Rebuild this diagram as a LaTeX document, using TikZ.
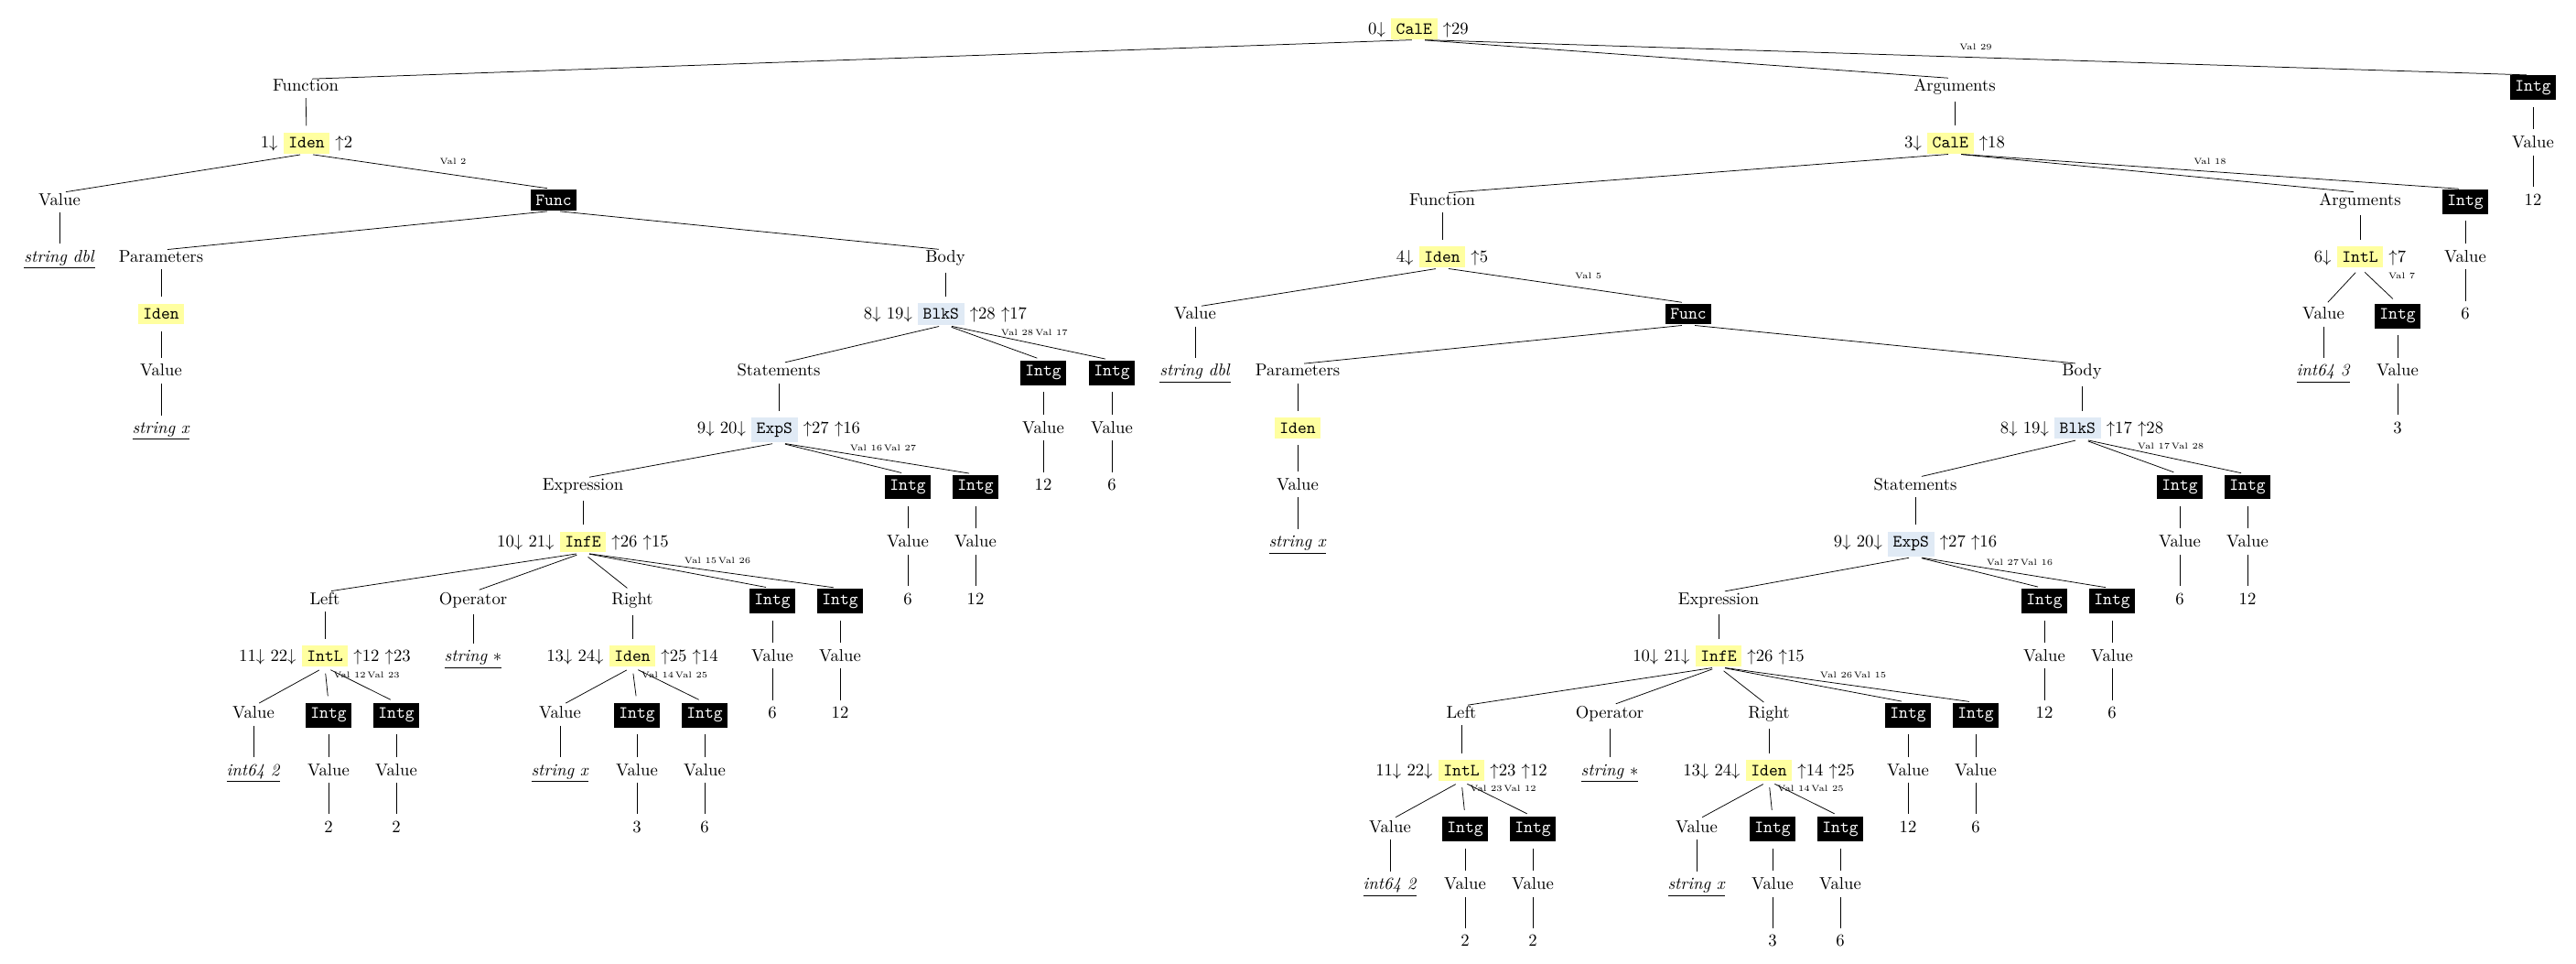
\documentclass[tikz,border=0pt]{standalone}
\usepackage{tikz,amsmath}
\definecolor{hlyellow}{HTML}{FFFFA0}
\definecolor{hlblue}{HTML}{E0EAF5}
\newcommand{\yelbox}[1]{\colorbox{hlyellow}{\texttt{#1}}}
\newcommand{\bluebox}[1]{\colorbox{hlblue}{\texttt{#1}}}
\newcommand{\blkbox}[1]{\colorbox{black}{\textcolor{white}{\texttt{#1}}}}
\newcommand{\ulval}[1]{\underline{\textit{#1}}}
\newcommand{\dn}[1]{$#1{\downarrow}$}
\newcommand{\up}[1]{${\uparrow}#1$}

\begin{document}
\begin{tikzpicture}[
        %x runs in pixels of the sheet, y counts the levels of the tree
        x=0.535pt, y=-33.33pt,
        every node/.style={inner sep=0pt, anchor=base},
        branch/.style={shorten <=3.8pt, shorten >=3.8pt},
        vallbl/.style={midway, anchor=center, font=\tiny, xshift=13.4pt, yshift=5.9pt},
        vallblmid/.style={midway, anchor=center, font=\tiny, yshift=5.9pt}
     ]
\useasboundingbox (0,-0.597) rectangle (2815,16.305);

% Root call
\node (cale0) at (1550,0) {\dn{0} \yelbox{CalE} \up{29}};
\node (fun0) at (334,1) {Function};
\node (args0) at (2136,1) {Arguments};
\draw[branch] (cale0.south) -- (fun0.north);
\draw[branch] (cale0.south) -- (args0.north);
\node (ig1) at (2768,1) {\blkbox{Intg}};
\node (iv1) at (2768,2) {Value};
\node (in1) at (2768,3) {12};
\draw[branch] (cale0.south) -- (ig1.north) node[vallblmid] {Val 29};
\draw[branch] (ig1.south) -- (iv1.north);
\draw[branch] (iv1.south) -- (in1.north);

% Function of the outer call
\node (iden1) at (335,2) {\dn{1} \yelbox{Iden} \up{2}};
\draw[branch] (fun0.south) -- (iden1.north);
\node (val1) at (65,3) {Value};
\node (str1) at (65,4) {\ulval{string dbl}};
\draw[branch] (iden1.south) -- (val1.north);
\draw[branch] (val1.south) -- (str1.north);
\node (func1) at (605,3) {\blkbox{Func}};
\draw[branch] (iden1.south) -- (func1.north) node[vallbl] {Val 2};
\node (par1) at (176,4) {Parameters};
\node (iden2) at (176,5) {\yelbox{Iden}};
\node (val2) at (176,6) {Value};
\node (str2) at (176,7) {\ulval{string x}};
\draw[branch] (func1.south) -- (par1.north);
\draw[branch] (par1.south) -- (iden2.north);
\draw[branch] (iden2.south) -- (val2.north);
\draw[branch] (val2.south) -- (str2.north);
\node (body1) at (1033,4) {Body};
\node (blks1) at (1033,5) {\dn{8} \dn{19} \bluebox{BlkS} \up{28} \up{17}};
\node (stm1) at (851,6) {Statements};
\node (exps1) at (851,7) {\dn{9} \dn{20} \bluebox{ExpS} \up{27} \up{16}};
\node (expr1) at (637,8) {Expression};
\node (infe1) at (637,9) {\dn{10} \dn{21} \yelbox{InfE} \up{26} \up{15}};
\draw[branch] (func1.south) -- (body1.north);
\draw[branch] (body1.south) -- (blks1.north);
\draw[branch] (blks1.south) -- (stm1.north);
\draw[branch] (stm1.south) -- (exps1.north);
\draw[branch] (exps1.south) -- (expr1.north);
\draw[branch] (expr1.south) -- (infe1.north);
\node (left1) at (355,10) {Left};
\node (intl1) at (355,11) {\dn{11} \dn{22} \yelbox{IntL} \up{12} \up{23}};
\node (val3) at (277,12) {Value};
\node (str3) at (277,13) {\ulval{int64 2}};
\draw[branch] (infe1.south) -- (left1.north);
\draw[branch] (left1.south) -- (intl1.north);
\draw[branch] (intl1.south) -- (val3.north);
\draw[branch] (val3.south) -- (str3.north);
\node (op1) at (517,10) {Operator};
\node (str4) at (517,11) {\underline{\textit{string} $*$}};
\draw[branch] (infe1.south) -- (op1.north);
\draw[branch] (op1.south) -- (str4.north);
\node (right1) at (691,10) {Right};
\node (iden3) at (691,11) {\dn{13} \dn{24} \yelbox{Iden} \up{25} \up{14}};
\node (val4) at (612,12) {Value};
\node (str5) at (612,13) {\ulval{string x}};
\draw[branch] (infe1.south) -- (right1.north);
\draw[branch] (right1.south) -- (iden3.north);
\draw[branch] (iden3.south) -- (val4.north);
\draw[branch] (val4.south) -- (str5.north);

% Integer values below the outer function
\node (ig2) at (359,12) {\blkbox{Intg}};
\node (iv2) at (359,13) {Value};
\node (in2) at (359,14) {2};
\draw[branch] (intl1.south) -- (ig2.north) node[vallbl] {Val 12};
\draw[branch] (ig2.south) -- (iv2.north);
\draw[branch] (iv2.south) -- (in2.north);
\node (ig3) at (433,12) {\blkbox{Intg}};
\node (iv3) at (433,13) {Value};
\node (in3) at (433,14) {2};
\draw[branch] (intl1.south) -- (ig3.north) node[vallbl] {Val 23};
\draw[branch] (ig3.south) -- (iv3.north);
\draw[branch] (iv3.south) -- (in3.north);
\node (ig4) at (696,12) {\blkbox{Intg}};
\node (iv4) at (696,13) {Value};
\node (in4) at (696,14) {3};
\draw[branch] (iden3.south) -- (ig4.north) node[vallbl] {Val 14};
\draw[branch] (ig4.south) -- (iv4.north);
\draw[branch] (iv4.south) -- (in4.north);
\node (ig5) at (770,12) {\blkbox{Intg}};
\node (iv5) at (770,13) {Value};
\node (in5) at (770,14) {6};
\draw[branch] (iden3.south) -- (ig5.north) node[vallbl] {Val 25};
\draw[branch] (ig5.south) -- (iv5.north);
\draw[branch] (iv5.south) -- (in5.north);
\node (ig6) at (844,10) {\blkbox{Intg}};
\node (iv6) at (844,11) {Value};
\node (in6) at (844,12) {6};
\draw[branch] (infe1.south) -- (ig6.north) node[vallbl] {Val 15};
\draw[branch] (ig6.south) -- (iv6.north);
\draw[branch] (iv6.south) -- (in6.north);
\node (ig7) at (918,10) {\blkbox{Intg}};
\node (iv7) at (918,11) {Value};
\node (in7) at (918,12) {12};
\draw[branch] (infe1.south) -- (ig7.north) node[vallbl] {Val 26};
\draw[branch] (ig7.south) -- (iv7.north);
\draw[branch] (iv7.south) -- (in7.north);
\node (ig8) at (992,8) {\blkbox{Intg}};
\node (iv8) at (992,9) {Value};
\node (in8) at (992,10) {6};
\draw[branch] (exps1.south) -- (ig8.north) node[vallbl] {Val 16};
\draw[branch] (ig8.south) -- (iv8.north);
\draw[branch] (iv8.south) -- (in8.north);
\node (ig9) at (1066,8) {\blkbox{Intg}};
\node (iv9) at (1066,9) {Value};
\node (in9) at (1066,10) {12};
\draw[branch] (exps1.south) -- (ig9.north) node[vallbl] {Val 27};
\draw[branch] (ig9.south) -- (iv9.north);
\draw[branch] (iv9.south) -- (in9.north);
\node (ig10) at (1140,6) {\blkbox{Intg}};
\node (iv10) at (1140,7) {Value};
\node (in10) at (1140,8) {12};
\draw[branch] (blks1.south) -- (ig10.north) node[vallbl] {Val 28};
\draw[branch] (ig10.south) -- (iv10.north);
\draw[branch] (iv10.south) -- (in10.north);
\node (ig11) at (1215,6) {\blkbox{Intg}};
\node (iv11) at (1215,7) {Value};
\node (in11) at (1215,8) {6};
\draw[branch] (blks1.south) -- (ig11.north) node[vallbl] {Val 17};
\draw[branch] (ig11.south) -- (iv11.north);
\draw[branch] (iv11.south) -- (in11.north);

% Inner call in the arguments
\node (cale3) at (2136,2) {\dn{3} \yelbox{CalE} \up{18}};
\draw[branch] (args0.south) -- (cale3.north);
\node (fun4) at (1576,3) {Function};
\node (iden4) at (1576,4) {\dn{4} \yelbox{Iden} \up{5}};
\draw[branch] (cale3.south) -- (fun4.north);
\draw[branch] (fun4.south) -- (iden4.north);
\node (val5) at (1306,5) {Value};
\node (str6) at (1306,6) {\ulval{string dbl}};
\draw[branch] (iden4.south) -- (val5.north);
\draw[branch] (val5.south) -- (str6.north);
\node (func2) at (1845,5) {\blkbox{Func}};
\draw[branch] (iden4.south) -- (func2.north) node[vallbl] {Val 5};
\node (par2) at (1418,6) {Parameters};
\node (iden5) at (1418,7) {\yelbox{Iden}};
\node (val6) at (1418,8) {Value};
\node (str7) at (1418,9) {\ulval{string x}};
\draw[branch] (func2.south) -- (par2.north);
\draw[branch] (par2.south) -- (iden5.north);
\draw[branch] (iden5.south) -- (val6.north);
\draw[branch] (val6.south) -- (str7.north);
\node (body2) at (2275,6) {Body};
\node (blks2) at (2275,7) {\dn{8} \dn{19} \bluebox{BlkS} \up{17} \up{28}};
\node (stm2) at (2093,8) {Statements};
\node (exps2) at (2093,9) {\dn{9} \dn{20} \bluebox{ExpS} \up{27} \up{16}};
\node (expr2) at (1878,10) {Expression};
\node (infe2) at (1878,11) {\dn{10} \dn{21} \yelbox{InfE} \up{26} \up{15}};
\draw[branch] (func2.south) -- (body2.north);
\draw[branch] (body2.south) -- (blks2.north);
\draw[branch] (blks2.south) -- (stm2.north);
\draw[branch] (stm2.south) -- (exps2.north);
\draw[branch] (exps2.south) -- (expr2.north);
\draw[branch] (expr2.south) -- (infe2.north);
\node (left2) at (1597,12) {Left};
\node (intl2) at (1597,13) {\dn{11} \dn{22} \yelbox{IntL} \up{23} \up{12}};
\node (val7) at (1519,14) {Value};
\node (str8) at (1519,15) {\ulval{int64 2}};
\draw[branch] (infe2.south) -- (left2.north);
\draw[branch] (left2.south) -- (intl2.north);
\draw[branch] (intl2.south) -- (val7.north);
\draw[branch] (val7.south) -- (str8.north);
\node (op2) at (1759,12) {Operator};
\node (str9) at (1759,13) {\underline{\textit{string} $*$}};
\draw[branch] (infe2.south) -- (op2.north);
\draw[branch] (op2.south) -- (str9.north);
\node (right2) at (1933,12) {Right};
\node (iden6) at (1933,13) {\dn{13} \dn{24} \yelbox{Iden} \up{14} \up{25}};
\node (val8) at (1854,14) {Value};
\node (str10) at (1854,15) {\ulval{string x}};
\draw[branch] (infe2.south) -- (right2.north);
\draw[branch] (right2.south) -- (iden6.north);
\draw[branch] (iden6.south) -- (val8.north);
\draw[branch] (val8.south) -- (str10.north);

% Integer values below the inner function
\node (ig12) at (1601,14) {\blkbox{Intg}};
\node (iv12) at (1601,15) {Value};
\node (in12) at (1601,16) {2};
\draw[branch] (intl2.south) -- (ig12.north) node[vallbl] {Val 23};
\draw[branch] (ig12.south) -- (iv12.north);
\draw[branch] (iv12.south) -- (in12.north);
\node (ig13) at (1675,14) {\blkbox{Intg}};
\node (iv13) at (1675,15) {Value};
\node (in13) at (1675,16) {2};
\draw[branch] (intl2.south) -- (ig13.north) node[vallbl] {Val 12};
\draw[branch] (ig13.south) -- (iv13.north);
\draw[branch] (iv13.south) -- (in13.north);
\node (ig14) at (1937,14) {\blkbox{Intg}};
\node (iv14) at (1937,15) {Value};
\node (in14) at (1937,16) {3};
\draw[branch] (iden6.south) -- (ig14.north) node[vallbl] {Val 14};
\draw[branch] (ig14.south) -- (iv14.north);
\draw[branch] (iv14.south) -- (in14.north);
\node (ig15) at (2011,14) {\blkbox{Intg}};
\node (iv15) at (2011,15) {Value};
\node (in15) at (2011,16) {6};
\draw[branch] (iden6.south) -- (ig15.north) node[vallbl] {Val 25};
\draw[branch] (ig15.south) -- (iv15.north);
\draw[branch] (iv15.south) -- (in15.north);
\node (ig16) at (2085,12) {\blkbox{Intg}};
\node (iv16) at (2085,13) {Value};
\node (in16) at (2085,14) {12};
\draw[branch] (infe2.south) -- (ig16.north) node[vallbl] {Val 26};
\draw[branch] (ig16.south) -- (iv16.north);
\draw[branch] (iv16.south) -- (in16.north);
\node (ig17) at (2159,12) {\blkbox{Intg}};
\node (iv17) at (2159,13) {Value};
\node (in17) at (2159,14) {6};
\draw[branch] (infe2.south) -- (ig17.north) node[vallbl] {Val 15};
\draw[branch] (ig17.south) -- (iv17.north);
\draw[branch] (iv17.south) -- (in17.north);
\node (ig18) at (2234,10) {\blkbox{Intg}};
\node (iv18) at (2234,11) {Value};
\node (in18) at (2234,12) {12};
\draw[branch] (exps2.south) -- (ig18.north) node[vallbl] {Val 27};
\draw[branch] (ig18.south) -- (iv18.north);
\draw[branch] (iv18.south) -- (in18.north);
\node (ig19) at (2308,10) {\blkbox{Intg}};
\node (iv19) at (2308,11) {Value};
\node (in19) at (2308,12) {6};
\draw[branch] (exps2.south) -- (ig19.north) node[vallbl] {Val 16};
\draw[branch] (ig19.south) -- (iv19.north);
\draw[branch] (iv19.south) -- (in19.north);
\node (ig20) at (2382,8) {\blkbox{Intg}};
\node (iv20) at (2382,9) {Value};
\node (in20) at (2382,10) {6};
\draw[branch] (blks2.south) -- (ig20.north) node[vallbl] {Val 17};
\draw[branch] (ig20.south) -- (iv20.north);
\draw[branch] (iv20.south) -- (in20.north);
\node (ig21) at (2456,8) {\blkbox{Intg}};
\node (iv21) at (2456,9) {Value};
\node (in21) at (2456,10) {12};
\draw[branch] (blks2.south) -- (ig21.north) node[vallbl] {Val 28};
\draw[branch] (ig21.south) -- (iv21.north);
\draw[branch] (iv21.south) -- (in21.north);

% Arguments of the inner call
\node (args3) at (2579,3) {Arguments};
\node (intl3) at (2579,4) {\dn{6} \yelbox{IntL} \up{7}};
\node (val9) at (2539,5) {Value};
\node (str11) at (2539,6) {\ulval{int64 3}};
\draw[branch] (cale3.south) -- (args3.north);
\draw[branch] (args3.south) -- (intl3.north);
\draw[branch] (intl3.south) -- (val9.north);
\draw[branch] (val9.south) -- (str11.north);
\node (ig22) at (2620,5) {\blkbox{Intg}};
\node (iv22) at (2620,6) {Value};
\node (in22) at (2620,7) {3};
\draw[branch] (intl3.south) -- (ig22.north) node[vallbl] {Val 7};
\draw[branch] (ig22.south) -- (iv22.north);
\draw[branch] (iv22.south) -- (in22.north);
\node (ig23) at (2694,3) {\blkbox{Intg}};
\node (iv23) at (2694,4) {Value};
\node (in23) at (2694,5) {6};
\draw[branch] (cale3.south) -- (ig23.north) node[vallblmid] {Val 18};
\draw[branch] (ig23.south) -- (iv23.north);
\draw[branch] (iv23.south) -- (in23.north);
\end{tikzpicture}
\end{document}
